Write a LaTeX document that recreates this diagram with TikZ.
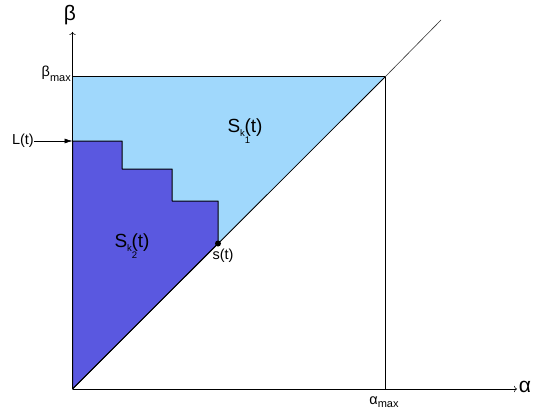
\documentclass[tikz,border=0pt]{standalone}
\usepackage{fontspec}
\setmainfont{Liberation Sans}
\usetikzlibrary{arrows.meta}
\definecolor{lightblue}{RGB}{160,216,252}
\definecolor{darkblue}{RGB}{90,88,224}
\tikzset{
  every picture/.style={line join=round, >=To},
  axis/.style={->, line width=0.6pt},
  edge/.style={line width=1pt},
  lbl/.style={inner sep=1pt, font=\fontsize{14.5}{16}\selectfont},
  axlbl/.style={inner sep=1pt, font=\fontsize{21}{22}\selectfont},
  biglbl/.style={inner sep=1pt, font=\fontsize{19}{21}\selectfont},
}
\newcommand{\subk}[1]{\raisebox{-0.45ex}{\fontsize{9.5}{9.5}\selectfont k}\raisebox{-1.1ex}{\fontsize{9.5}{9.5}\selectfont #1}\hspace{-0.3em}}

\begin{document}
\begin{tikzpicture}[x=1pt,y=-1pt]
\useasboundingbox (0,0) rectangle (541,412);
\coordinate (O) at (72.5,389);
\coordinate (Bmax) at (72.5,77);
\coordinate (C) at (385,77);
\coordinate (Amax) at (385,389);
\coordinate (Lt) at (72.5,141);
\coordinate (st) at (218,243.5);
\coordinate (D) at (441,20);
\coordinate (Ytop) at (72.5,32);
\coordinate (Xend) at (517,389);
% regions
\fill[lightblue] (O) -- (Bmax) -- (C) -- cycle;
\filldraw[darkblue, draw=black, edge] (O) -- (Lt) -| (122,169) -| (172,201) -| (st) -- cycle;
\draw[edge] (Bmax) -- (C) -- (Amax);
\draw[line width=0.8pt] (O) -- (C);
\draw[line width=0.6pt, black!80] (C) -- (D);
% axes
\draw[axis] (O) -- (Ytop);
\draw[axis] (O) -- (Xend);
\fill (st) circle (3);
% labels
\node[axlbl] (beta) at (70,15) {β};
\node[lbl, anchor=east, inner sep=0pt] (betamax) at (71,74) {β\raisebox{-0.6ex}{\fontsize{11}{11}\selectfont max}};
\node[axlbl] (alpha) at (525,387) {α};
\node[lbl] (alphamax) at (384,402) {α\raisebox{-0.4ex}{\fontsize{11}{11}\selectfont max}};
\node[lbl, anchor=east, inner sep=0pt] (L) at (34,141) {L(t)};
\draw[-{Latex[length=8pt,width=5pt]}, line width=0.6pt] (L.east) -- (Lt);
\node[lbl] (s) at (223,256) {s(t)};
\node[biglbl] (S1) at (245,131) {S\subk{1}(t)};
\node[biglbl] (S2) at (132,246) {S\subk{2}(t)};
\end{tikzpicture}
\end{document}
